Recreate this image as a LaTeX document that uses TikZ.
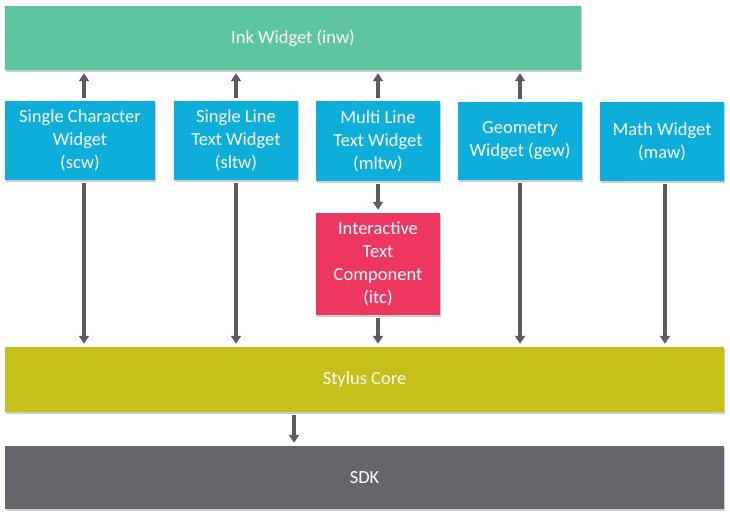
\documentclass[tikz,border=0pt]{standalone}
\usepackage{fontspec}
\setmainfont{Carlito}
\usetikzlibrary{arrows.meta,shadows}
\definecolor{inkgreen}{HTML}{5EC69F}
\definecolor{wblue}{HTML}{0EAEDB}
\definecolor{itcred}{HTML}{EE3760}
\definecolor{coreolive}{HTML}{C5C11A}
\definecolor{sdkgray}{HTML}{63676B}
\definecolor{arrowgray}{HTML}{5A5C60}
\tikzset{
  box/.style={rectangle, inner sep=0pt, text=white, align=center,
    font=\fontsize{18.5}{23}\selectfont,
    drop shadow={shadow xshift=1pt, shadow yshift=-2pt, opacity=0.2, fill=black}},
  arr/.style={draw=arrowgray, line width=3.2pt,
    -{Triangle[width=10pt,length=8pt]}, shorten >=3pt, shorten <=3pt}
}
\begin{document}
\begin{tikzpicture}[x=1pt,y=-1pt]
\useasboundingbox (0,0) rectangle (730,516);
% boxes
\node[box, fill=inkgreen, minimum width=576pt, minimum height=64pt] (ink) at (293,38) {Ink Widget (inw)};
\node[box, fill=wblue, minimum width=150pt, minimum height=79pt] (scw) at (80,140.5) {Single Character\\Widget\\(scw)};
\node[box, fill=wblue, minimum width=124pt, minimum height=79pt] (sltw) at (236,140.5) {Single Line\\Text Widget\\(sltw)};
\node[box, fill=wblue, minimum width=124pt, minimum height=79pt] (mltw) at (378,141) {Multi Line\\Text Widget\\(mltw)};
\node[box, fill=wblue, minimum width=124pt, minimum height=78pt] (gew) at (520,141) {Geometry\\Widget (gew)};
\node[box, fill=wblue, minimum width=124pt, minimum height=79pt] (maw) at (662,141.5) {Math Widget\\(maw)};
\node[box, fill=itcred, minimum width=124pt, minimum height=102pt] (itc) at (378,264) {Interactive\\Text\\Component\\(itc)};
\node[box, fill=coreolive, minimum width=719pt, minimum height=65pt] (core) at (364.5,379.5) {Stylus Core};
\node[box, fill=sdkgray, minimum width=719pt, minimum height=63pt] (sdk) at (364.5,477.5) {SDK};
% column coordinates
\coordinate (c1) at (84,0);
\coordinate (c2) at (236,0);
\coordinate (c3) at (378,0);
\coordinate (c4) at (520,0);
\coordinate (c5) at (665,0);
\coordinate (c6) at (294,0);
% up arrows to ink widget
\draw[arr] (scw.north -| c1) -- (ink.south -| c1);
\draw[arr] (sltw.north -| c2) -- (ink.south -| c2);
\draw[arr] (mltw.north -| c3) -- (ink.south -| c3);
\draw[arr] (gew.north -| c4) -- (ink.south -| c4);
% mltw to itc
\draw[arr] (mltw.south -| c3) -- (itc.north -| c3);
% down arrows to stylus core
\draw[arr] (scw.south -| c1) -- (core.north -| c1);
\draw[arr] (sltw.south -| c2) -- (core.north -| c2);
\draw[arr] (itc.south -| c3) -- (core.north -| c3);
\draw[arr] (gew.south -| c4) -- (core.north -| c4);
\draw[arr] (maw.south -| c5) -- (core.north -| c5);
% core to sdk
\draw[arr] (core.south -| c6) -- (sdk.north -| c6);
\end{tikzpicture}
\end{document}
